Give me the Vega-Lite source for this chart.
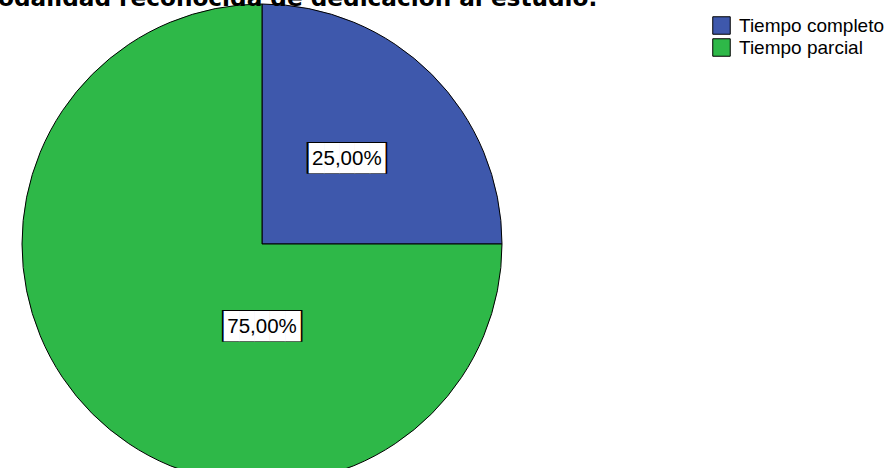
{
  "$schema": "https://vega.github.io/schema/vega-lite/v6.json",
  "width": 524,
  "height": 448,
  "autosize": {"type": "none"},
  "padding": {"left": 0, "top": 20, "right": 366, "bottom": 0},
  "background": "white",
  "config": {
    "view": {"stroke": null},
    "locale": {"number": {"decimal": ",", "thousands": ".", "grouping": [3], "currency": ["", " €"]}}
  },
  "title": {
    "text": "Modalidad reconocida de dedicación al estudio.",
    "anchor": "start",
    "frame": "group",
    "font": "DejaVu Sans",
    "fontSize": 23.2,
    "fontWeight": "bold",
    "color": "black",
    "dx": -25,
    "baseline": "alphabetic",
    "offset": -27
  },
  "data": {
    "values": [
      {"modalidad": "Tiempo completo", "proporcion": 0.25},
      {"modalidad": "Tiempo parcial", "proporcion": 0.75}
    ]
  },
  "layer": [
    {
      "mark": {"type": "arc", "outerRadius": 240, "stroke": "black", "strokeWidth": 1},
      "encoding": {
        "theta": {"field": "proporcion", "type": "quantitative", "stack": true},
        "color": {
          "field": "modalidad",
          "type": "nominal",
          "scale": {"domain": ["Tiempo completo", "Tiempo parcial"], "range": ["#3E58AC", "#2EB848"]},
          "legend": {
            "title": null,
            "orient": "none",
            "legendX": 712,
            "legendY": -4,
            "symbolType": "square",
            "symbolSize": 306,
            "symbolStrokeColor": "black",
            "symbolStrokeWidth": 1,
            "symbolOpacity": 1,
            "labelFont": "Liberation Sans",
            "labelFontSize": 19,
            "labelColor": "black",
            "labelOffset": 8,
            "rowPadding": -1,
            "padding": 0
          }
        }
      }
    },
    {
      "encoding": {
        "theta": {"field": "proporcion", "type": "quantitative", "stack": null, "scale": {"domain": [0, 1], "range": [-0.3927, 4.3197]}},
        "radius": {"field": "proporcion", "type": "quantitative", "scale": {"type": "linear", "zero": false, "domain": [0, 1], "range": [138.5, 64.5]}}
      },
      "layer": [
        {
          "mark": {"type": "text", "text": "█████", "font": "DejaVu Sans Mono", "fontSize": 26.6, "color": "black", "baseline": "middle", "align": "center"}
        },
        {
          "mark": {"type": "text", "text": "█████", "font": "DejaVu Sans Mono", "fontSize": 25.4, "color": "white", "baseline": "middle", "align": "center"}
        },
        {
          "mark": {"type": "text", "font": "Liberation Sans", "fontSize": 20.5, "color": "black", "baseline": "middle", "align": "center"},
          "encoding": {
            "text": {"field": "proporcion", "type": "quantitative", "format": ".2%"}
          }
        }
      ]
    }
  ],
  "resolve": {"scale": {"theta": "independent", "radius": "independent"}}
}
